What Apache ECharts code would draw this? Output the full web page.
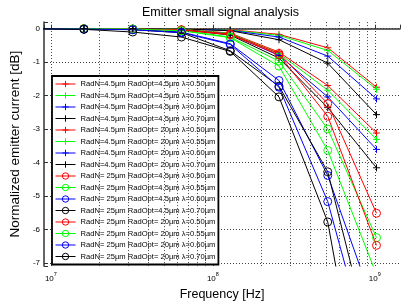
<!DOCTYPE html>
<html>
<head>
<meta charset="utf-8">
<script src="https://cdn.jsdelivr.net/npm/echarts@6/dist/echarts.min.js"></script>
<style>
  html, body { margin: 0; padding: 0; background: #fff; }
  #chart { width: 403px; height: 306px; }
</style>
</head>
<body>
<div id="chart"></div>
<script>
// frequencies [Hz]
var freqs = [8e6, 16e6, 32e6, 64e6, 128e6, 256e6, 512e6, 1024e6];

// RadN=4.5um, RadOpt=4.5um  ('+' markers)
var n45o45_050 = [0, 0, 0, -0.01, -0.03, -0.17, -0.57, -1.75];
var n45o45_055 = [0, 0, 0, -0.01, -0.04, -0.20, -0.65, -1.81];
var n45o45_060 = [0, 0, 0, -0.01, -0.05, -0.25, -0.82, -2.10];
var n45o45_070 = [0, 0, 0, -0.01, -0.06, -0.33, -1.03, -2.57];
// RadN=4.5um, RadOpt=20um
var n45o20_050 = [0, 0, 0, -0.02, -0.13, -0.70, -1.70, -3.12];
var n45o20_055 = [0, 0, 0, -0.02, -0.14, -0.74, -1.84, -3.31];
var n45o20_060 = [0, 0, 0, -0.03, -0.16, -0.80, -2.04, -3.61];
var n45o20_070 = [0, 0, 0, -0.03, -0.19, -0.88, -2.36, -4.16];
// RadN=25um, RadOpt=4.5um  ('o' markers)
var n25o45_050 = [0, 0, -0.01, -0.03, -0.16, -0.74, -2.24, -5.52];
var n25o45_055 = [0, 0, -0.01, -0.05, -0.25, -0.97, -3.00, -6.25];
var n25o45_060 = [0, -0.01, -0.02, -0.10, -0.45, -1.55, -4.39, -8.5];
var n25o45_070 = [0, -0.01, -0.03, -0.12, -0.66, -1.72, -4.28, -10.1];
// RadN=25um, RadOpt=20um
var n25o20_050 = [0, 0, -0.01, -0.04, -0.18, -0.78, -2.62, -6.48];
var n25o20_055 = [0, 0, -0.01, -0.06, -0.27, -1.12, -3.64, -7.35];
var n25o20_060 = [0, -0.01, -0.03, -0.12, -0.47, -1.75, -5.17, -10.5];
var n25o20_070 = [0, -0.02, -0.10, -0.25, -0.68, -2.04, -5.78, -13.8];

var names = [
  'RadN=4.5µm RadOpt=4.5µm λ=0.50µm', 'RadN=4.5µm RadOpt=4.5µm λ=0.55µm',
  'RadN=4.5µm RadOpt=4.5µm λ=0.60µm', 'RadN=4.5µm RadOpt=4.5µm λ=0.70µm',
  'RadN=4.5µm RadOpt= 20µm λ=0.50µm', 'RadN=4.5µm RadOpt= 20µm λ=0.55µm',
  'RadN=4.5µm RadOpt= 20µm λ=0.60µm', 'RadN=4.5µm RadOpt= 20µm λ=0.70µm',
  'RadN= 25µm RadOpt=4.5µm λ=0.50µm', 'RadN= 25µm RadOpt=4.5µm λ=0.55µm',
  'RadN= 25µm RadOpt=4.5µm λ=0.60µm', 'RadN= 25µm RadOpt=4.5µm λ=0.70µm',
  'RadN= 25µm RadOpt= 20µm λ=0.50µm', 'RadN= 25µm RadOpt= 20µm λ=0.55µm',
  'RadN= 25µm RadOpt= 20µm λ=0.60µm', 'RadN= 25µm RadOpt= 20µm λ=0.70µm'
];
var values = [
  n45o45_050, n45o45_055, n45o45_060, n45o45_070,
  n45o20_050, n45o20_055, n45o20_060, n45o20_070,
  n25o45_050, n25o45_055, n25o45_060, n25o45_070,
  n25o20_050, n25o20_055, n25o20_060, n25o20_070
];
var colors = ['#ff0000', '#00ff00', '#0000ff', '#000000'];

// minor log grid positions (2..9 x decade)
var minorGrid = [];
[1e7, 1e8, 1e9].forEach(function (d) {
  for (var k = 2; k <= 9; k++) if (k * d < 1.43e9) minorGrid.push(k * d);
});

var PLUS = 'path://M0,4L8,4M4,0L4,8';
var FONT = 'Liberation Sans, Arial, sans-serif';

document.addEventListener('DOMContentLoaded', function () {
  var series = values.map(function (v, i) {
    var c = colors[i % 4];
    var isCircle = i >= 8;
    var s = {
      name: names[i],
      type: 'line',
      data: v.map(function (y, j) { return [freqs[j], y]; }),
      symbol: isCircle ? 'circle' : PLUS,
      symbolSize: isCircle ? 8 : 7,
      showAllSymbol: true,
      lineStyle: { color: c, width: 1 },
      itemStyle: { color: isCircle ? 'rgba(0,0,0,0)' : c, borderColor: c, borderWidth: 1 },
      emphasis: { disabled: true },
      animation: false
    };
    if (i === 0) {
      s.markLine = {
        silent: true, symbol: 'none', animation: false,
        label: { show: false },
        lineStyle: { color: '#444', type: [1, 2], width: 1 },
        data: minorGrid.map(function (x) { return { xAxis: x }; })
      };
    }
    return s;
  });

  echarts.init(document.querySelector('#chart')).setOption({
    animation: false,
    textStyle: { fontFamily: FONT },
    title: {
      text: 'Emitter small signal analysis',
      left: 137, top: 1,
      textStyle: { fontSize: 12.5, fontWeight: 'normal', color: '#000', fontFamily: FONT }
    },
    grid: { left: 38, top: 22, right: 0, bottom: 33 },
    legend: {
      data: names,
      orient: 'vertical',
      left: 52, top: 76,
      padding: [3, 3, 3, 3],
      itemWidth: 20, itemHeight: 8, itemGap: 1.5,
      backgroundColor: '#fff',
      borderColor: '#000', borderWidth: 1.8,
      lineStyle: { width: 1 },
      itemStyle: { borderWidth: 1 },
      textStyle: { fontSize: 7.6, lineHeight: 10, color: '#000', fontFamily: FONT },
      selectedMode: false
    },
    xAxis: {
      type: 'log', logBase: 10,
      min: 9.07e6, max: 1.43e9, splitNumber: 2,
      name: 'Frequency [Hz]', nameLocation: 'middle', nameGap: 17,
      nameTextStyle: { fontSize: 12.5, color: '#000', fontFamily: FONT },
      axisLine: { lineStyle: { color: '#333', width: 1.5 } },
      axisTick: { inside: true, length: 4, lineStyle: { color: '#333' } },
      splitLine: { show: true, showMinLine: false, showMaxLine: false, lineStyle: { color: '#444', type: [1, 2] } },
      axisLabel: {
        margin: 5,
        formatter: function (v) {
          var e = Math.log10(v);
          if (Math.abs(e - Math.round(e)) > 1e-6) return '';
          return '{b|10}{s|' + Math.round(e) + '}';
        },
        rich: {
          b: { fontSize: 8, color: '#000', lineHeight: 12, verticalAlign: 'bottom', fontFamily: FONT },
          s: { fontSize: 5.5, color: '#000', lineHeight: 12, verticalAlign: 'top', fontFamily: FONT }
        }
      }
    },
    yAxis: {
      type: 'value',
      min: -7.1, max: 0.2, splitNumber: 7,
      name: 'Normalized emitter current [dB]', nameLocation: 'middle', nameGap: 10,
      nameTextStyle: { fontSize: 13.5, color: '#000', fontFamily: FONT },
      axisLine: { show: true, lineStyle: { color: '#333', width: 1.5 } },
      axisTick: { show: true, inside: true, length: 4, lineStyle: { color: '#333' } },
      splitLine: { show: true, showMinLine: false, showMaxLine: false, lineStyle: { color: '#444', type: [1, 2] } },
      axisLabel: {
        margin: 4, fontSize: 8, color: '#000',
        formatter: function (v) { return Number.isInteger(v) ? String(v) : ''; }
      }
    },
    series: series
  });
});
</script>
</body>
</html>
